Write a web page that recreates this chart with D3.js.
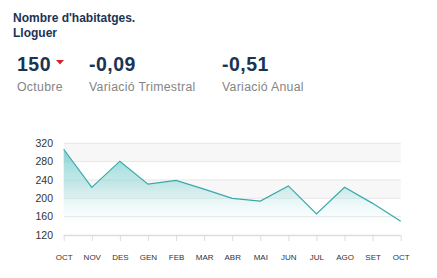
<!DOCTYPE html>
<html><head><meta charset="utf-8">
<script src="https://cdn.jsdelivr.net/npm/d3@7"></script>
<style>
html,body{margin:0;padding:0;background:#fff;}
svg{display:block;font-family:"Liberation Sans",Arial,sans-serif;}
</style></head>
<body>
<svg id="c" width="437" height="278"></svg>
<script>
const months = ["OCT","NOV","DES","GEN","FEB","MAR","ABR","MAI","JUN","JUL","AGO","SET","OCT"];
const values = [307,224,281,231,239,220,200,194,227,166,224,189,150];
const yTicks = [120,160,200,240,280,320];
const titleLines = ["Nombre d'habitatges.","Lloguer"];
const kpiValues = ["150","-0,09","-0,51"];
const kpiLabels = ["Octubre","Variació Trimestral","Variació Anual"];

const svg = d3.select("#c");
const navy = "#1b3454";

// Title
svg.selectAll("text.title").data(titleLines).enter().append("text")
  .attr("x",13).attr("y",(d,i)=>22+i*14.5)
  .attr("font-size",12).attr("font-weight","bold").attr("fill",navy).text(d=>d);

const kpiX = [17,89,222];
svg.selectAll("text.kv").data(kpiValues).enter().append("text")
  .attr("x",(d,i)=>kpiX[i]).attr("y",71)
  .attr("font-size",19.5).attr("letter-spacing",0.5).attr("font-weight","bold").attr("fill",navy).text(d=>d);
svg.selectAll("text.kl").data(kpiLabels).enter().append("text")
  .attr("x",(d,i)=>kpiX[i]).attr("y",91)
  .attr("font-size",12.3).attr("letter-spacing",0.3).attr("fill","#858585").text(d=>d);
// red down triangle
svg.append("path").attr("d","M56,60 L64,60 L60,64.5 Z").attr("fill","#d0262b");

// Chart
const x = d3.scalePoint().domain(d3.range(months.length)).range([63.7,400.7]);
const y = d3.scaleLinear().domain([120,320]).range([235,143.3]);
const x0 = 63.7, x1 = 400.7;

// alternate bands
const bands = [[280,320],[200,240]];
svg.selectAll("rect.band").data(bands).enter().append("rect")
  .attr("x",x0).attr("width",x1-x0)
  .attr("y",d=>y(d[1])).attr("height",d=>y(d[0])-y(d[1]))
  .attr("fill","#f7f7f7");

// gridlines
svg.selectAll("line.grid").data(yTicks.slice(1)).enter().append("line")
  .attr("x1",x0).attr("x2",x1).attr("y1",d=>y(d)).attr("y2",d=>y(d))
  .attr("stroke","#e6e6e6").attr("stroke-width",1);

// gradient
const defs = svg.append("defs");
const g = defs.append("linearGradient").attr("id","ag")
  .attr("gradientUnits","userSpaceOnUse").attr("x1",0).attr("x2",0).attr("y1",y(320)).attr("y2",y(125));
g.append("stop").attr("offset","0%").attr("stop-color","#5ec4c4").attr("stop-opacity",0.8);
g.append("stop").attr("offset","45%").attr("stop-color","#8fd6d6").attr("stop-opacity",0.5);
g.append("stop").attr("offset","100%").attr("stop-color","#ffffff").attr("stop-opacity",0);

const area = d3.area().x((d,i)=>x(i)).y0(y(120)).y1(d=>y(d));
svg.append("path").datum(values).attr("d",area).attr("fill","url(#ag)");
const line = d3.line().x((d,i)=>x(i)).y(d=>y(d));
svg.append("path").datum(values).attr("d",line).attr("fill","none")
  .attr("stroke","#3aa8aa").attr("stroke-width",1.2);

// y axis labels
svg.selectAll("text.yl").data(yTicks).enter().append("text")
  .attr("x",53).attr("y",d=>y(d)).attr("dy","0.35em").attr("text-anchor","end")
  .attr("font-size",10.5).attr("fill","#333").text(d=>d);

// x axis
const xa = svg.append("g").attr("transform","translate(0,235)")
  .call(d3.axisBottom(x).tickSize(6).tickFormat(i=>months[i]).tickPadding(13));
xa.select(".domain").attr("stroke","#dcdcdc").attr("stroke-width",1.5).attr("d",`M${x0},0.5H${x1}`);
xa.selectAll(".tick line").attr("stroke","#dcdcdc");
xa.selectAll(".tick text").attr("font-size",8).attr("fill","#333")
  .attr("font-family","'Liberation Sans',Arial,sans-serif");
</script>
</body></html>
